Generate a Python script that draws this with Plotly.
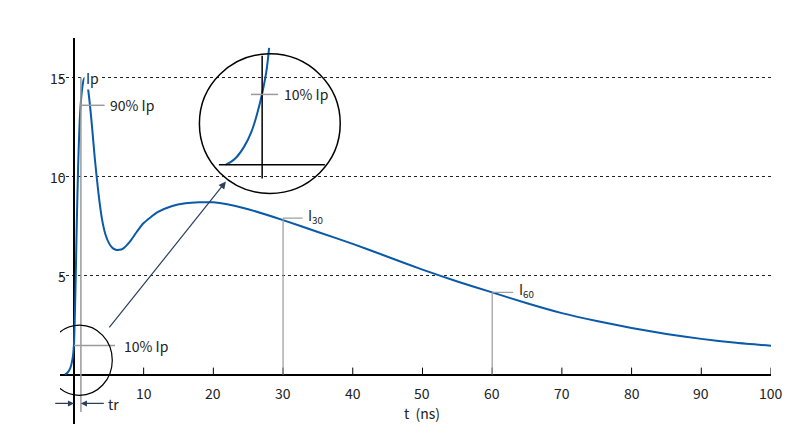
import plotly.graph_objects as go

# main waveform (t in ns, I in A)
t = [-1.3, -0.9, -0.5, -0.2, 0.0, 0.2, 0.4, 0.6, 0.8, 1.0, 1.2, 1.4, 1.6, 1.8, 2.0, 2.3, 2.6, 3.0, 3.5,
     4.0, 4.5, 5.0, 5.5, 6.0, 6.5, 7.0, 8.0, 9.0, 10, 12, 14, 16, 18, 20, 22, 25, 30, 35, 40, 45, 50,
     55, 60, 65, 70, 75, 80, 85, 90, 95, 100]
i_a = [0.0, 0.1, 0.35, 0.8, 1.5, 4.0, 7.5, 10.5, 12.6, 13.8, 14.5, 14.9, 15.0, 14.9, 14.5, 13.6, 12.5,
       10.9, 9.2, 7.9, 7.1, 6.65, 6.4, 6.3, 6.3, 6.35, 6.7, 7.2, 7.65, 8.2, 8.5, 8.65, 8.7, 8.7, 8.6,
       8.35, 7.8, 7.2, 6.6, 5.95, 5.3, 4.7, 4.15, 3.6, 3.1, 2.7, 2.35, 2.05, 1.8, 1.6, 1.45]

# magnified rise shown in the inset (drawn in main-axis coordinates)
inset_t = [21.8, 23.1, 24.4, 25.5, 26.3, 27.0, 27.6, 28.0]
inset_i = [10.6, 10.9, 11.5, 12.3, 13.2, 14.2, 15.3, 16.5]

xticks = [10, 20, 30, 40, 50, 60, 70, 80, 90, 100]
yticks = [5, 10, 15]
ip, ip90, ip10 = 15, 13.6, 1.46
i30, i60 = 7.8, 4.15

blue = "#0a5aa8"
gray = "#9a9a9a"
fnt = dict(family="Noto Sans CJK JP, Roboto, sans-serif", size=14, color="#222")

fig = go.Figure()
fig.add_trace(go.Scatter(x=t, y=i_a, mode="lines", line=dict(color=blue, width=2, shape="spline", smoothing=0.6),
                         hoverinfo="skip"))
fig.add_trace(go.Scatter(x=inset_t, y=inset_i, mode="lines", line=dict(color=blue, width=2, shape="spline"),
                         hoverinfo="skip"))

shapes = []
def line(x0, y0, x1, y1, color="black", width=1):
    shapes.append(dict(type="line", x0=x0, y0=y0, x1=x1, y1=y1, line=dict(color=color, width=width)))

for v in xticks:
    line(v, 0, v, 0.35)
# markers for Ip, tr, I30, I60
line(1.0, -1.9, 1.0, ip, gray, 1.5)
line(0.9, ip90, 4.4, ip90, gray, 1.5)
line(0, ip10, 5.9, ip10, gray, 1.5)
line(30, 0, 30, i30 + 0.1, gray, 1.2)
line(30, i30 + 0.1, 32.8, i30 + 0.1, gray, 1.2)
line(60, 0, 60, i60, gray, 1.2)
line(60, i60, 63, i60, gray, 1.2)
# circles
shapes.append(dict(type="circle", x0=18.0, x1=38.2, y0=9.15, y1=16.2, line=dict(color="black", width=1.5)))
shapes.append(dict(type="circle", x0=-3.9, x1=5.5, y0=-1.05, y1=2.5, line=dict(color="black", width=1.2)))
# inset axes
line(27.0, 9.9, 27.0, 16.1, "black", 1.5)
line(20.8, 10.6, 36.0, 10.6, "black", 1.5)
line(25.4, 14.15, 29.3, 14.15, gray, 1.5)

annotations = [dict(x=v, y=-0.35, text=str(v), showarrow=False, yanchor="top", font=fnt) for v in xticks]
annotations += [dict(x=-0.9, y=v, text=str(v), showarrow=False, xanchor="right", font=fnt) for v in yticks]
annotations += [
    dict(x=1.4, y=ip, text="Ip", showarrow=False, xanchor="left", bgcolor="white", font=fnt),
    dict(x=4.9, y=ip90, text="90% Ip", showarrow=False, xanchor="left", font=fnt),
    dict(x=6.9, y=ip10, text="10% Ip", showarrow=False, xanchor="left", font=fnt),
    dict(x=29.9, y=14.15, text="10% Ip", showarrow=False, xanchor="left", font=fnt),
    dict(x=33.3, y=i30 + 0.2, text="I<sub>30</sub>", showarrow=False, xanchor="left", font=fnt),
    dict(x=63.5, y=i60 + 0.1, text="I<sub>60</sub>", showarrow=False, xanchor="left", font=fnt),
    dict(x=4.6, y=-1.5, text="tr", showarrow=False, xanchor="left", font=fnt),
    dict(x=50, y=-1.95, text="t  (ns)", showarrow=False, font=fnt),
    dict(x=-4.6, y=10.1, text="I (A)", textangle=-90, showarrow=False, font=fnt),
    dict(x=21.8, y=9.75, ax=4.9, ay=2.3, xref="x", yref="y", axref="x", ayref="y",
         showarrow=True, arrowhead=2, arrowsize=1.2, arrowwidth=1.2, text=""),
    dict(x=0, y=-1.46, ax=-2.9, ay=-1.46, axref="x", ayref="y",
         showarrow=True, arrowhead=2, arrowsize=1, arrowwidth=1.2, text=""),
    dict(x=1.0, y=-1.46, ax=4.5, ay=-1.46, axref="x", ayref="y",
         showarrow=True, arrowhead=2, arrowsize=1, arrowwidth=1.2, text=""),
]

fig.update_layout(
    width=800, height=437, margin=dict(l=52, r=37, t=30, b=21),
    plot_bgcolor="white", paper_bgcolor="white", showlegend=False,
    shapes=shapes, annotations=annotations, font=fnt,
    xaxis=dict(range=[-2, 100], showgrid=False, showticklabels=False, ticks="", automargin=False,
               zeroline=True, zerolinecolor="black", zerolinewidth=1.5),
    yaxis=dict(range=[-2.5, 17], tickvals=yticks, showticklabels=False, ticks="", showgrid=True,
               gridcolor="#222", griddash="dot", gridwidth=1, automargin=False,
               zeroline=True, zerolinecolor="black", zerolinewidth=1.5),
)

fig.write_html("out.html")
